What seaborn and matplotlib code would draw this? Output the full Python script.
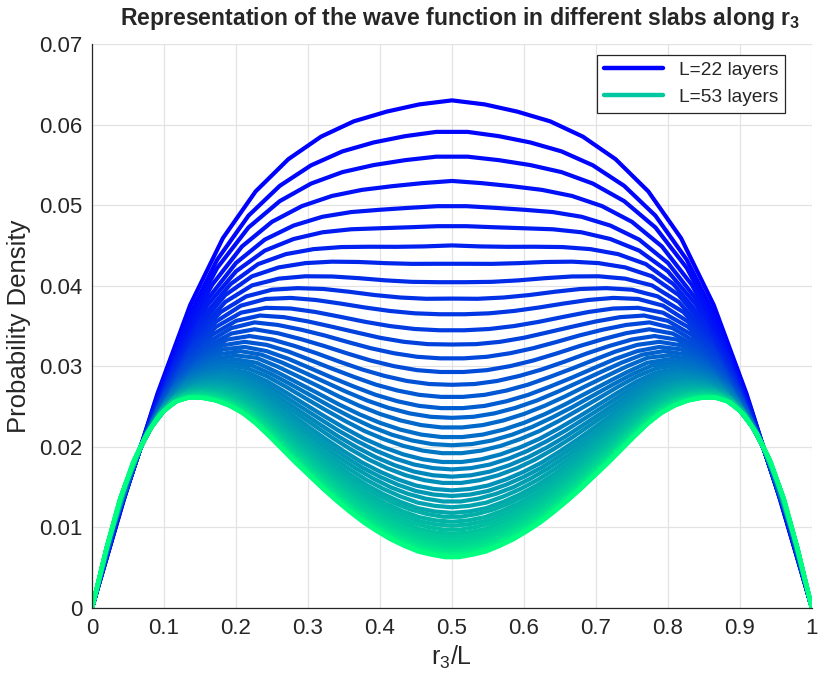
import numpy as np
import pandas as pd
import matplotlib
matplotlib.use("Agg")
import matplotlib.pyplot as plt
from matplotlib.lines import Line2D
import seaborn as sns

# --- data ---
# L=22 curve, points at n/22 for n=0..11 (mirror for the right half)
top_half = [0.0, 0.0138, 0.0266, 0.0376, 0.0459, 0.0517, 0.0557,
            0.0585, 0.0604, 0.0616, 0.0625, 0.0630]
# L=53 curve, points at n/53 for n=0..26 (mirror for the right half)
bottom_half = [0.0, 0.0070, 0.0132, 0.0180, 0.0215, 0.0240, 0.0255, 0.0261,
               0.0261, 0.0258, 0.0252, 0.0243, 0.0230, 0.0214, 0.0197, 0.0180,
               0.0164, 0.0148, 0.0133, 0.0119, 0.0106, 0.0095, 0.0085, 0.0077,
               0.0070, 0.0066, 0.0063]
# value at r3/L = 0.5 for every drawn curve, top to bottom
center_vals = [0.0630, 0.0593, 0.0562, 0.0530, 0.0500, 0.0475, 0.0450, 0.0428,
               0.0405, 0.0384, 0.0365, 0.0345, 0.0327, 0.0310, 0.0293, 0.0277,
               0.0262, 0.0248, 0.0236, 0.0224, 0.0212, 0.0202, 0.0192, 0.0181,
               0.0172, 0.0163, 0.0155, 0.0146, 0.0139, 0.0132, 0.0125, 0.0118,
               0.0113, 0.0107, 0.0102, 0.0097, 0.0092, 0.0088, 0.0084, 0.0080,
               0.0077, 0.0074, 0.0071, 0.0069, 0.0067, 0.0065, 0.0064, 0.0063]
L_first, L_last = 22, 53
legend_labels = ["L=22 layers", "L=53 layers"]
xticks = [0, 0.1, 0.2, 0.3, 0.4, 0.5, 0.6, 0.7, 0.8, 0.9, 1]
yticks = [0, 0.01, 0.02, 0.03, 0.04, 0.05, 0.06, 0.07]

sns.set_style("white")
plt.rcParams["font.family"] = ["Liberation Sans", "DejaVu Sans"]
plt.rcParams["mathtext.fontset"] = "custom"
plt.rcParams["mathtext.rm"] = "Liberation Sans"
plt.rcParams["mathtext.it"] = "Liberation Sans"
plt.rcParams["mathtext.bf"] = "Liberation Sans:bold"

# full profiles
top_full = np.array(top_half + top_half[-2::-1])
bot_full = np.array(bottom_half + bottom_half[::-1])
x_top = np.arange(len(top_full)) / L_first
x_bot = np.arange(len(bot_full)) / L_last

n_curves = len(center_vals)
c0, c1 = center_vals[0], center_vals[-1]
rows = []
for k, cv in enumerate(center_vals):
    w = (c0 - cv) / (c0 - c1)
    L = int(round(L_first + (L_last - L_first) * k / (n_curves - 1)))
    if k == 0:
        xs, ys = x_top, top_full
    elif k == n_curves - 1:
        xs, ys = x_bot, bot_full
    else:
        xs = np.arange(L + 1) / L
        ys = (1 - w) * np.interp(xs, x_top, top_full) + w * np.interp(xs, x_bot, bot_full)
    for a, b in zip(xs, ys):
        rows.append((k, a, b))
df = pd.DataFrame(rows, columns=["curve", "x", "density"])

colors = [(0.0, t, 1 - 0.5 * t) for t in np.linspace(0, 1, n_curves)]

fig = plt.figure(figsize=(8.19, 6.86), dpi=100)
ax = fig.add_axes([0.1123, 0.1137, 0.8791, 0.8222])
sns.lineplot(data=df, x="x", y="density", hue="curve", palette=colors,
             estimator=None, sort=False, legend=False, linewidth=3.0, ax=ax)

ax.set_xlim(0, 1)
ax.set_ylim(0, 0.07)
ax.set_xticks(xticks)
ax.set_yticks(yticks)
ax.set_xticklabels([f"{v:g}" for v in xticks])
ax.set_yticklabels([f"{v:g}" for v in yticks])
ax.grid(True, color="#e3e3e3", linewidth=0.9)
ax.set_axisbelow(True)
for s in ["top", "right"]:
    ax.spines[s].set_visible(False)
for s in ["left", "bottom"]:
    ax.spines[s].set_color("#262626")
    ax.spines[s].set_linewidth(0.9)
ax.tick_params(direction="in", length=5, width=0.9, colors="#262626",
               labelsize=16, labelcolor="#262626", pad=7)
ax.set_xlabel(r"$\mathregular{r_3}$/L", fontsize=18, color="#262626", labelpad=4)
ax.set_ylabel("Probability Density", fontsize=18.5, color="#262626", labelpad=6)
ax.set_title(r"Representation of the wave function in different slabs along $\mathbf{r_3}$",
             fontsize=16.6, fontweight="bold", pad=14, x=0.512)

handles = [Line2D([], [], color="#0000ff", linewidth=3.2),
           Line2D([], [], color="#00c8a0", linewidth=3.2)]
leg = ax.legend(handles, legend_labels, loc="upper right",
                bbox_to_anchor=(0.9625, 0.9805), borderaxespad=0, fontsize=13.8,
                fancybox=False, edgecolor="#262626", framealpha=1,
                handlelength=3.1, labelspacing=0.5, borderpad=0.35)
leg.get_frame().set_linewidth(0.9)

fig.savefig("out.png", dpi=100)
